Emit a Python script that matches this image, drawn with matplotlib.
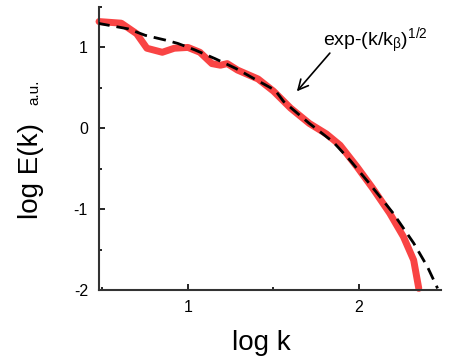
import numpy as np
import matplotlib
matplotlib.use('Agg')
import matplotlib.pyplot as plt
from matplotlib.ticker import MultipleLocator

plt.rcParams['font.family'] = 'Liberation Sans'
plt.rcParams['mathtext.fontset'] = 'custom'
plt.rcParams['mathtext.rm'] = 'Liberation Sans'
plt.rcParams['mathtext.it'] = 'Liberation Sans'
plt.rcParams['axes.unicode_minus'] = False

# measured spectrum (log k, log E)
logk = [0.48, 0.61, 0.70, 0.76, 0.85, 0.92, 1.00, 1.07, 1.14, 1.19, 1.23, 1.29,
        1.41, 1.50, 1.60, 1.71, 1.81, 1.89, 1.99, 2.08, 2.18, 2.26, 2.32, 2.35]
logE = [1.32, 1.30, 1.17, 0.99, 0.94, 0.99, 1.00, 0.94, 0.80, 0.78, 0.80, 0.72,
        0.61, 0.46, 0.25, 0.06, -0.07, -0.21, -0.48, -0.74, -1.05, -1.34, -1.63, -1.98]

# stretched exponential fit
fit_k = [0.47, 0.65, 0.75, 0.87, 0.94, 1.04, 1.16, 1.28, 1.39, 1.51,
         1.56, 1.71, 1.85, 1.95, 2.06, 2.20, 2.32, 2.40, 2.46]
fit_E = [1.30, 1.23, 1.15, 1.09, 1.05, 0.97, 0.86, 0.74, 0.61, 0.47,
         0.33, 0.06, -0.17, -0.40, -0.68, -1.05, -1.42, -1.71, -1.98]

fig = plt.figure(figsize=(4.59, 3.63), dpi=100)
ax = fig.add_axes([0.2157, 0.2011, 0.7451, 0.7796])

ax.plot(logk, logE, color='#f94444', lw=5, solid_capstyle='round',
        solid_joinstyle='round', clip_on=False, zorder=2)
ax.plot(fit_k, fit_E, color='black', lw=2, dashes=(4.5, 2.5), zorder=3)

ax.set_xlim(0.48, 2.48)
ax.set_ylim(-2, 1.5)
ax.xaxis.set_major_locator(MultipleLocator(1))
ax.xaxis.set_minor_locator(MultipleLocator(0.5))
ax.yaxis.set_major_locator(MultipleLocator(1))
ax.yaxis.set_minor_locator(MultipleLocator(0.5))
ax.tick_params(which='both', direction='in', labelsize=11.5, width=1.2)
ax.tick_params(which='major', length=4.5)
ax.tick_params(which='minor', length=2.5)
ax.tick_params(axis='y', pad=8)
ax.tick_params(axis='x', pad=7)
for s in ['top', 'right']:
    ax.spines[s].set_visible(False)
for s in ['left', 'bottom']:
    ax.spines[s].set_linewidth(1.5)
    ax.spines[s].set_color('#333333')

ax.set_xlabel('log k', fontsize=20)
ax.xaxis.set_label_coords(0.475, -0.14)
fig.text(0.068, 0.53, 'log E(k)', rotation=90, fontsize=20, ha='center', va='center')
fig.text(0.074, 0.746, 'a.u.', rotation=90, fontsize=11, ha='center', va='center')

ax.text(1.79, 1.02, r'exp-(k/k$_{\beta}$)$^{1/2}$', fontsize=14, ha='left', va='baseline')
ax.annotate('', xy=(1.637, 0.457), xytext=(1.83, 0.93),
            arrowprops=dict(arrowstyle='->', color='black', lw=1.2,
                            shrinkA=0, shrinkB=0, mutation_scale=18))

fig.savefig('out.png', dpi=100)
